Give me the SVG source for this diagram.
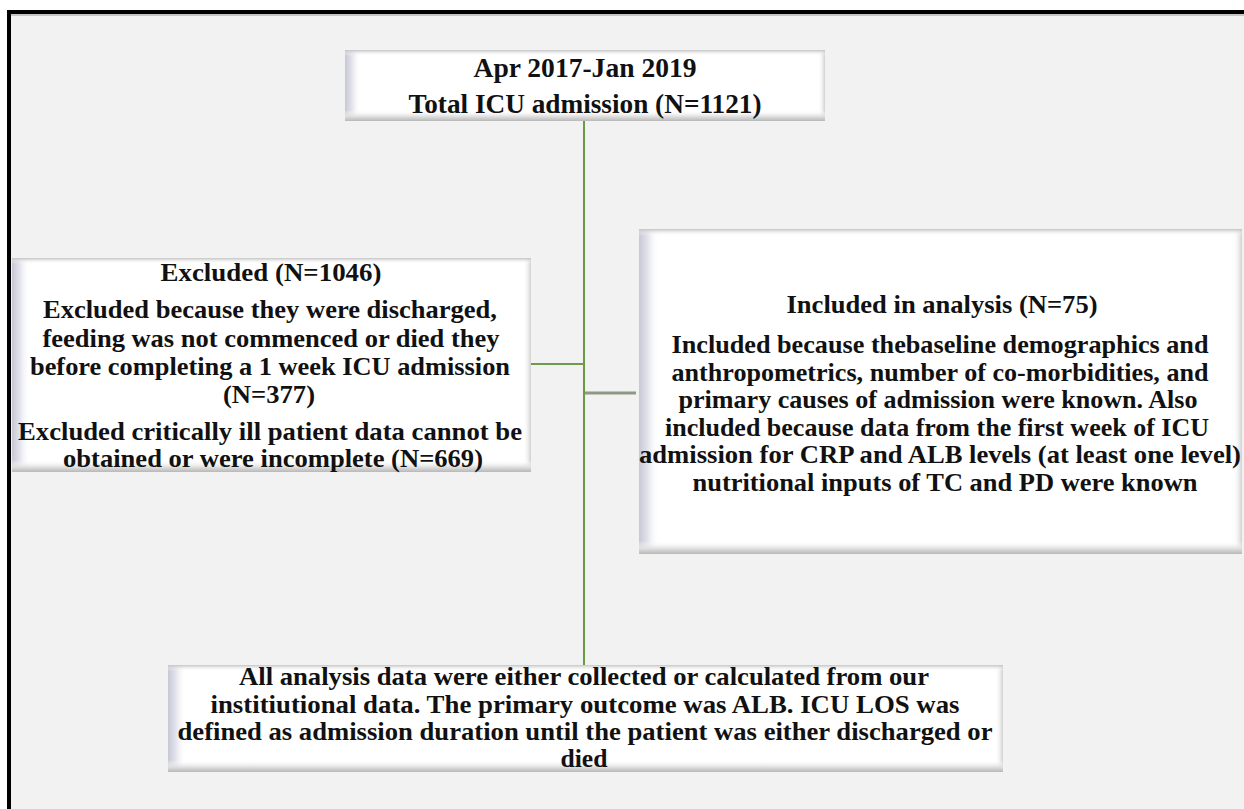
<svg xmlns="http://www.w3.org/2000/svg" width="1244" height="809" viewBox="0 0 1244 809">
<style>
.t{font-family:"Liberation Serif","Times New Roman",serif;font-weight:bold;fill:#111111;text-anchor:middle;}
.s27{font-size:27px;}
.s26{font-size:26px;}
.s25{font-size:25px;}
.face{fill:#ffffff;}
.conn{fill:none;stroke-linecap:butt;}
</style>
<defs>
<linearGradient id="gL" x1="0" y1="0" x2="1" y2="0"><stop offset="0" stop-color="#c8c8d4"/><stop offset="0.45" stop-color="#e4e4ee"/><stop offset="1" stop-color="#ffffff" stop-opacity="0"/></linearGradient>
<linearGradient id="gR" x1="0" y1="0" x2="1" y2="0"><stop offset="0" stop-color="#ffffff" stop-opacity="0"/><stop offset="1" stop-color="#d0d0d0"/></linearGradient>
<linearGradient id="gT" x1="0" y1="0" x2="0" y2="1"><stop offset="0" stop-color="#c4c4c4"/><stop offset="1" stop-color="#ffffff" stop-opacity="0"/></linearGradient>
<linearGradient id="gB" x1="0" y1="0" x2="0" y2="1"><stop offset="0" stop-color="#ffffff" stop-opacity="0"/><stop offset="0.6" stop-color="#dedede"/><stop offset="1" stop-color="#b8b8b8"/></linearGradient>
</defs>
<rect x="0" y="0" width="1244" height="809" fill="#ffffff"/>
<rect x="9" y="12" width="1300" height="900" fill="#f2f2f2" stroke="#000000" stroke-width="4"/>
<line x1="11" y1="15" x2="1244" y2="15" stroke="#9a9a9a" stroke-width="1"/>

<g id="connectors">
<line class="conn" x1="584" y1="121" x2="584" y2="665" stroke="#6b9a44" stroke-width="2"/>
<line class="conn" x1="531" y1="364" x2="584" y2="364" stroke="#6f9a4c" stroke-width="2"/>
<line class="conn" x1="585" y1="393" x2="636" y2="393" stroke="#8d9885" stroke-width="3"/>
</g>

<g id="node-total">
<rect class="face" x="345" y="50" width="480" height="71"/>
<rect x="345" y="50" width="16" height="71" fill="url(#gL)"/>
<rect x="818" y="50" width="7" height="71" fill="url(#gR)"/>
<rect x="345" y="50" width="480" height="6" fill="url(#gT)"/>
<rect x="345" y="110" width="480" height="11" fill="url(#gB)"/>
<text class="t s27" x="585" y="77" textLength="223" lengthAdjust="spacingAndGlyphs">Apr 2017-Jan 2019</text>
<text class="t s27" x="585" y="113" textLength="353" lengthAdjust="spacingAndGlyphs">Total ICU admission (N=1121)</text>
</g>

<g id="node-excluded">
<rect class="face" x="12" y="258" width="519" height="214"/>
<rect x="12" y="258" width="18" height="214" fill="url(#gL)"/>
<rect x="523" y="258" width="8" height="214" fill="url(#gR)"/>
<rect x="12" y="258" width="519" height="6" fill="url(#gT)"/>
<rect x="12" y="460" width="519" height="12" fill="url(#gB)"/>
<text class="t s26" x="271" y="281" textLength="221" lengthAdjust="spacingAndGlyphs">Excluded (N=1046)</text>
<text class="t s26" x="270" y="318" textLength="454" lengthAdjust="spacingAndGlyphs">Excluded because they were discharged,</text>
<text class="t s26" x="271" y="347" textLength="457" lengthAdjust="spacingAndGlyphs">feeding was not commenced or died they</text>
<text class="t s26" x="270" y="375" textLength="480" lengthAdjust="spacingAndGlyphs">before completing a 1 week ICU admission</text>
<text class="t s26" x="269" y="403" textLength="92" lengthAdjust="spacingAndGlyphs">(N=377)</text>
<text class="t s26" x="270" y="440" textLength="504" lengthAdjust="spacingAndGlyphs">Excluded critically ill patient data cannot be</text>
<text class="t s26" x="273" y="467" textLength="420" lengthAdjust="spacingAndGlyphs">obtained or were incomplete (N=669)</text>
</g>

<g id="node-included">
<rect class="face" x="639" y="229" width="603" height="325"/>
<rect x="639" y="229" width="20" height="325" fill="url(#gL)"/>
<rect x="1233" y="229" width="9" height="325" fill="url(#gR)"/>
<rect x="639" y="229" width="603" height="7" fill="url(#gT)"/>
<rect x="639" y="541" width="603" height="13" fill="url(#gB)"/>
<text class="t s26" x="942" y="313" textLength="311" lengthAdjust="spacingAndGlyphs">Included in analysis (N=75)</text>
<text class="t s25" x="940" y="353" textLength="537" lengthAdjust="spacingAndGlyphs">Included because thebaseline demographics and</text>
<text class="t s25" x="940" y="381" textLength="537" lengthAdjust="spacingAndGlyphs">anthropometrics, number of co-morbidities, and</text>
<text class="t s25" x="938" y="408" textLength="519" lengthAdjust="spacingAndGlyphs">primary causes of admission were known. Also</text>
<text class="t s25" x="937" y="436" textLength="544" lengthAdjust="spacingAndGlyphs">included because data from the first week of ICU</text>
<text class="t s25" x="940" y="463" textLength="602" lengthAdjust="spacingAndGlyphs">admission for CRP and ALB levels (at least one level)</text>
<text class="t s25" x="945" y="491" textLength="505" lengthAdjust="spacingAndGlyphs">nutritional inputs of TC and PD were known</text>
</g>

<g id="node-analysis">
<rect class="face" x="168" y="665" width="835" height="107"/>
<rect x="168" y="665" width="18" height="107" fill="url(#gL)"/>
<rect x="995" y="665" width="8" height="107" fill="url(#gR)"/>
<rect x="168" y="665" width="835" height="6" fill="url(#gT)"/>
<rect x="168" y="760" width="835" height="12" fill="url(#gB)"/>
<text class="t s26" x="584" y="685" textLength="690" lengthAdjust="spacingAndGlyphs">All analysis data were either collected or calculated from our</text>
<text class="t s26" x="585" y="713" textLength="749" lengthAdjust="spacingAndGlyphs">institiutional data. The primary outcome was ALB. ICU LOS was</text>
<text class="t s26" x="585" y="740" textLength="815" lengthAdjust="spacingAndGlyphs">defined as admission duration until the patient was either discharged or</text>
<text class="t s26" x="584" y="767" textLength="47" lengthAdjust="spacingAndGlyphs">died</text>
</g>
</svg>
